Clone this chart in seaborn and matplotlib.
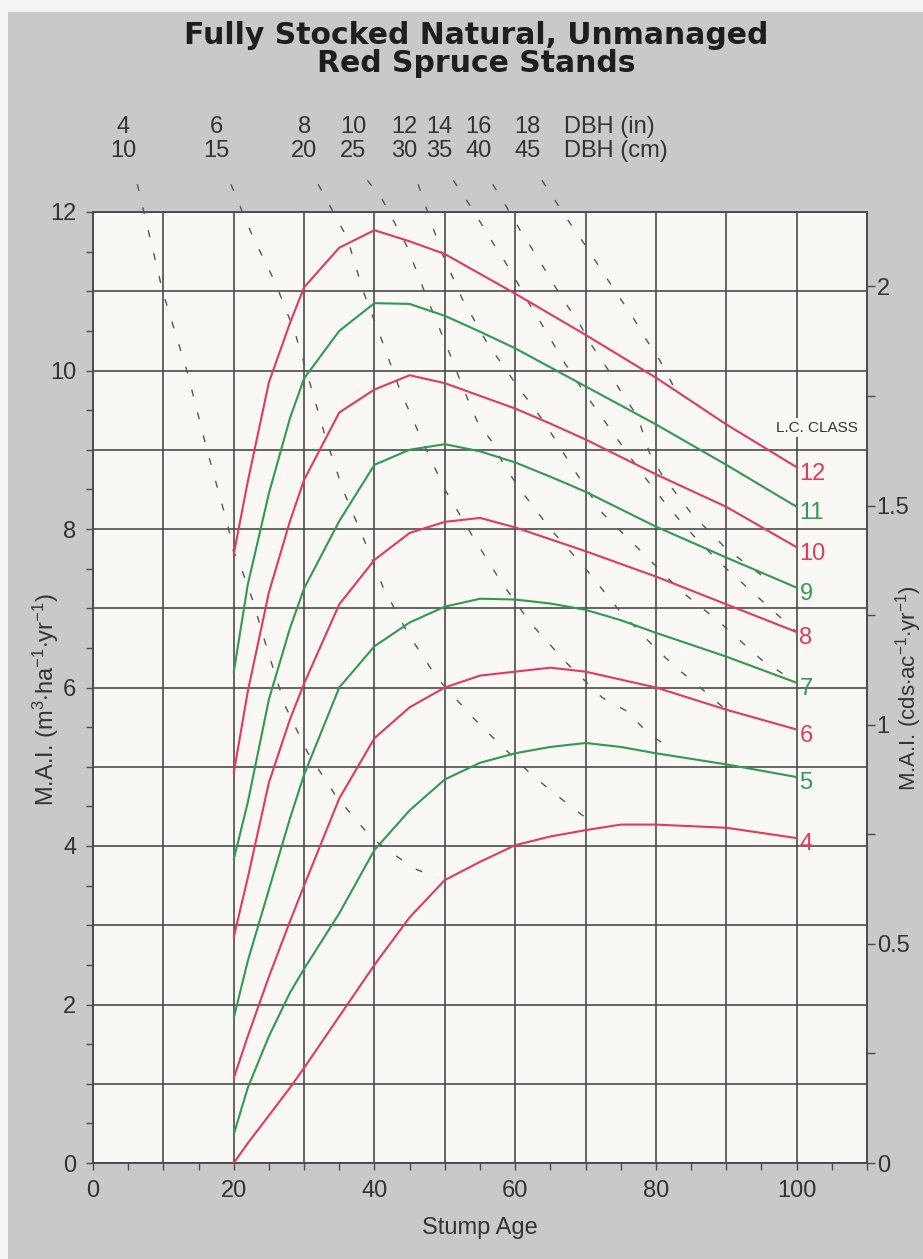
import matplotlib
matplotlib.use("Agg")
import matplotlib.pyplot as plt
import seaborn as sns
import pandas as pd
from matplotlib.ticker import MultipleLocator, FuncFormatter
from matplotlib.patches import Rectangle

# ---------------- data ----------------
ages = [20, 22, 25, 28, 30, 35, 40, 45, 50, 55, 60, 65, 70, 75, 80, 90, 100]
mai_12 = [7.68, 8.60, 9.85, 10.60, 11.05, 11.55, 11.77, 11.63, 11.47, 11.22, 10.97, 10.71, 10.45, 10.18, 9.91, 9.32, 8.78]
mai_11 = [6.19, 7.30, 8.45, 9.40, 9.90, 10.50, 10.85, 10.84, 10.69, 10.49, 10.28, 10.04, 9.80, 9.56, 9.32, 8.81, 8.28]
mai_10 = [4.92, 5.95, 7.20, 8.10, 8.62, 9.47, 9.76, 9.94, 9.84, 9.68, 9.52, 9.33, 9.13, 8.91, 8.69, 8.28, 7.77]
mai_9 = [3.83, 4.55, 5.85, 6.75, 7.25, 8.10, 8.81, 9.00, 9.07, 8.98, 8.84, 8.66, 8.47, 8.25, 8.03, 7.64, 7.26]
mai_8 = [2.85, 3.60, 4.80, 5.60, 6.05, 7.05, 7.61, 7.95, 8.09, 8.14, 8.02, 7.87, 7.72, 7.56, 7.40, 7.05, 6.70]
mai_7 = [1.83, 2.55, 3.45, 4.35, 4.90, 6.00, 6.52, 6.82, 7.02, 7.12, 7.11, 7.06, 6.98, 6.85, 6.69, 6.39, 6.06]
mai_6 = [1.07, 1.60, 2.35, 3.05, 3.50, 4.60, 5.36, 5.75, 6.00, 6.15, 6.20, 6.25, 6.20, 6.10, 6.00, 5.72, 5.47]
mai_5 = [0.36, 0.95, 1.60, 2.15, 2.45, 3.15, 3.95, 4.45, 4.84, 5.05, 5.17, 5.25, 5.30, 5.25, 5.17, 5.03, 4.87]
mai_4 = [0.00, 0.25, 0.60, 0.95, 1.20, 1.85, 2.50, 3.10, 3.57, 3.80, 4.01, 4.12, 4.20, 4.27, 4.27, 4.23, 4.10]
lc_classes = [12, 11, 10, 9, 8, 7, 6, 5, 4]

dbh_in = [4, 6, 8, 10, 12, 14, 16, 18]
dbh_cm = [10, 15, 20, 25, 30, 35, 40, 45]
dbh4_age = [6.3, 9.9, 13.4, 16.2, 19.2, 19.9, 21.3, 22.7, 24.9, 27.3, 30.5, 34.6, 39.6, 45.5, 49.0]
dbh4_mai = [12.35, 11.0, 9.98, 9.0, 8.03, 7.73, 7.45, 7.10, 6.44, 5.77, 5.18, 4.62, 4.10, 3.72, 3.60]
dbh6_age = [19.6, 22.7, 25.9, 28.7, 30.8, 33.0, 35.5, 38.4, 41.2, 44.7, 48.9, 54.0, 56.7, 62.1, 64.9, 68.2, 71.0]
dbh6_mai = [12.35, 11.69, 11.11, 10.48, 9.85, 9.17, 8.50, 7.89, 7.27, 6.69, 6.12, 5.62, 5.38, 4.92, 4.71, 4.48, 4.29]
dbh8_age = [32.0, 36.1, 38.4, 41.1, 43.6, 46.7, 50.0, 53.8, 57.8, 62.1, 67.3, 72.4, 75.9, 78.8, 81.7]
dbh8_mai = [12.35, 11.68, 11.0, 10.37, 9.76, 9.13, 8.50, 7.93, 7.36, 6.82, 6.31, 5.87, 5.70, 5.43, 5.25]
dbh10_age = [39.0, 41.1, 44.6, 47.4, 50.3, 53.1, 54.7, 56.8, 58.5, 60.7, 65.0, 70.0, 74.9, 77.3, 80.1, 83.0, 85.8, 88.6, 90.0]
dbh10_mai = [12.40, 12.16, 11.57, 10.93, 10.30, 9.67, 9.34, 9.09, 8.79, 8.50, 8.00, 7.50, 6.96, 6.74, 6.48, 6.24, 6.04, 5.82, 5.72]
dbh12_age = [46.2, 49.5, 52.5, 56.0, 59.7, 64.2, 68.2, 72.4, 78.0, 83.4, 89.1, 95.0, 100.0]
dbh12_mai = [12.35, 11.50, 10.90, 10.35, 9.88, 9.34, 8.77, 8.20, 7.71, 7.23, 6.82, 6.35, 6.06]
dbh14_age = [51.2, 53.3, 55.4, 57.4, 59.5, 61.4, 64.0, 67.0, 70.0, 74.0, 78.0, 82.0, 86.0, 90.0, 95.0, 100.0]
dbh14_mai = [12.40, 12.12, 11.82, 11.53, 11.24, 10.93, 10.55, 10.10, 9.70, 9.20, 8.70, 8.25, 7.85, 7.50, 7.10, 6.70]
dbh16_age = [56.8, 59.0, 60.9, 63.1, 64.9, 67.0, 69.2, 71.0, 73.2, 75.1, 77.4, 79.1, 80.8, 85.0, 90.0, 96.0]
dbh16_mai = [12.35, 12.03, 11.74, 11.44, 11.17, 10.87, 10.58, 10.30, 10.01, 9.72, 9.42, 8.96, 8.69, 8.20, 7.75, 7.35]
dbh18_age = [63.8, 66.0, 68.0, 70.2, 72.3, 74.4, 76.6, 78.7, 80.6, 82.5]
dbh18_mai = [12.40, 12.10, 11.83, 11.55, 11.26, 10.98, 10.69, 10.38, 10.12, 9.80]

M3_PER_CORD_RATE = 5.53  # m3/ha/yr per cds/ac/yr

# ---------------- build tables ----------------
series = {12: mai_12, 11: mai_11, 10: mai_10, 9: mai_9, 8: mai_8,
          7: mai_7, 6: mai_6, 5: mai_5, 4: mai_4}
df = pd.concat([pd.DataFrame({"age": ages, "mai": series[c], "cls": str(c)})
                for c in lc_classes], ignore_index=True)
dbh_lines = [(dbh4_age, dbh4_mai), (dbh6_age, dbh6_mai), (dbh8_age, dbh8_mai),
             (dbh10_age, dbh10_mai), (dbh12_age, dbh12_mai), (dbh14_age, dbh14_mai),
             (dbh16_age, dbh16_mai), (dbh18_age, dbh18_mai)]

RED = "#e23a5a"
GREEN = "#2f9a50"
INK = "#333333"
GRID = "#4c4c4c"
pal = {str(c): (RED if c % 2 == 0 else GREEN) for c in lc_classes}

sns.set_theme(style="white")
NARROW = ["Liberation Sans Narrow", "Liberation Sans", "DejaVu Sans"]
plt.rcParams["font.family"] = NARROW
plt.rcParams["mathtext.fontset"] = "custom"
plt.rcParams["mathtext.rm"] = "Liberation Sans"
plt.rcParams["mathtext.it"] = "Liberation Sans"

W, H = 923, 1259
fig = plt.figure(figsize=(W / 100, H / 100), dpi=100)
fig.patch.set_facecolor("#f4f4f4")
fig.add_artist(Rectangle((8 / W, 0), 1, 1 - 12 / H, transform=fig.transFigure,
                         facecolor="#c8c9c8", edgecolor="none", zorder=-10))

x0, x1, y_top, y_bot = 93, 867, 212, 1163
ax = fig.add_axes([x0 / W, 1 - y_bot / H, (x1 - x0) / W, (y_bot - y_top) / H])
ax.set_facecolor("#f9f8f5")

# curves
sns.lineplot(data=df, x="age", y="mai", hue="cls", palette=pal, estimator=None,
             legend=False, ax=ax, linewidth=1.5, zorder=4)

# DBH iso-lines (dashed), extended above the plot up to the labels
for xs, ys in dbh_lines:
    sns.lineplot(x=xs, y=ys, sort=False, estimator=None, ax=ax, color="#555555",
                 linewidth=1.0, linestyle=(0, (5, 12)), clip_on=False, zorder=3)

ax.set_xlim(0, 110)
ax.set_ylim(0, 12)
ax.xaxis.set_major_locator(MultipleLocator(10))
ax.xaxis.set_minor_locator(MultipleLocator(5))
ax.yaxis.set_major_locator(MultipleLocator(1))
ax.yaxis.set_minor_locator(MultipleLocator(0.5))
ax.xaxis.set_major_formatter(FuncFormatter(lambda v, p: f"{int(round(v))}" if round(v) % 20 == 0 and v <= 100 else ""))
ax.yaxis.set_major_formatter(FuncFormatter(lambda v, p: f"{int(round(v))}" if round(v) % 2 == 0 else ""))
ax.grid(True, which="major", color=GRID, linewidth=1.2)
for s in ax.spines.values():
    s.set_color(GRID)
    s.set_linewidth(1.4)
    s.set_visible(True)
ax.tick_params(which="both", direction="out", length=5, width=1.0, color=GRID,
               labelsize=17, labelcolor=INK, pad=7, bottom=True, left=True)
ax.set_xlabel("")
ax.set_ylabel("")

# right-hand axis in cords per acre per year
ax2 = ax.twinx()
ax2.set_ylim(0, 12 / M3_PER_CORD_RATE)
ax2.grid(False)
ax2.yaxis.set_major_locator(MultipleLocator(0.5))
ax2.yaxis.set_minor_locator(MultipleLocator(0.25))
ax2.yaxis.set_major_formatter(FuncFormatter(lambda v, p: f"{v:g}"))
for s in ax2.spines.values():
    s.set_visible(False)
ax2.tick_params(which="both", axis="y", direction="out", length=6, width=1.0,
                color=GRID, labelsize=17, labelcolor=INK, pad=1, right=True,
                left=False, labelleft=False, labelright=True)
ax2.set_ylabel("")

# class labels at curve ends
for c in lc_classes:
    yend = series[c][-1]
    ax.text(ages[-1] + 0.4, yend - 0.08, str(c), color=pal[str(c)], fontsize=17,
            ha="left", va="center", zorder=6)
ax.text(97.0, 9.28, "L.C. CLASS", fontsize=11, color=INK, ha="left", va="center",
        zorder=6, bbox=dict(facecolor="#f9f8f5", edgecolor="none", pad=1.5))

# DBH labels above the plot, tied to the start of each iso-line
for (xs, ys), din, dcm in zip(dbh_lines, dbh_in, dbh_cm):
    ax.text(xs[0] - 2.0, 13.07, str(din), fontsize=17, color=INK, ha="center",
            va="center", clip_on=False)
    ax.text(xs[0] - 2.0, 12.77, str(dcm), fontsize=17, color=INK, ha="center",
            va="center", clip_on=False)
ax.text(67.0, 13.07, "DBH (in)", fontsize=17, color=INK, ha="left", va="center", clip_on=False)
ax.text(67.0, 12.77, "DBH (cm)", fontsize=17, color=INK, ha="left", va="center", clip_on=False)

# titles and axis labels
fig.text(476 / W, 1 - 36 / H, "Fully Stocked Natural, Unmanaged",
         ha="center", va="center", fontsize=21.5, fontweight="bold",
         family=["DejaVu Sans"], color="#1e1e1e")
fig.text(476 / W, 1 - 63 / H, "Red Spruce Stands",
         ha="center", va="center", fontsize=21.5, fontweight="bold",
         family=["DejaVu Sans"], color="#1e1e1e")
fig.text(480 / W, 1 - 1228 / H, "Stump Age", ha="center", va="center",
         fontsize=17, color=INK)
fig.text(46 / W, 1 - 700 / H,
         r"M.A.I. (m$^{\mathregular{3}}$$\cdot$ha$^{\mathregular{-1}}$$\cdot$yr$^{\mathregular{-1}}$)",
         rotation=90, ha="center", va="center", fontsize=17, color=INK)
fig.text(909 / W, 1 - 688 / H,
         r"M.A.I. (cds$\cdot$ac$^{\mathregular{-1}}$$\cdot$yr$^{\mathregular{-1}}$)",
         rotation=90, ha="center", va="center", fontsize=16, color=INK)

fig.savefig("out.png", dpi=100, facecolor=fig.get_facecolor())
